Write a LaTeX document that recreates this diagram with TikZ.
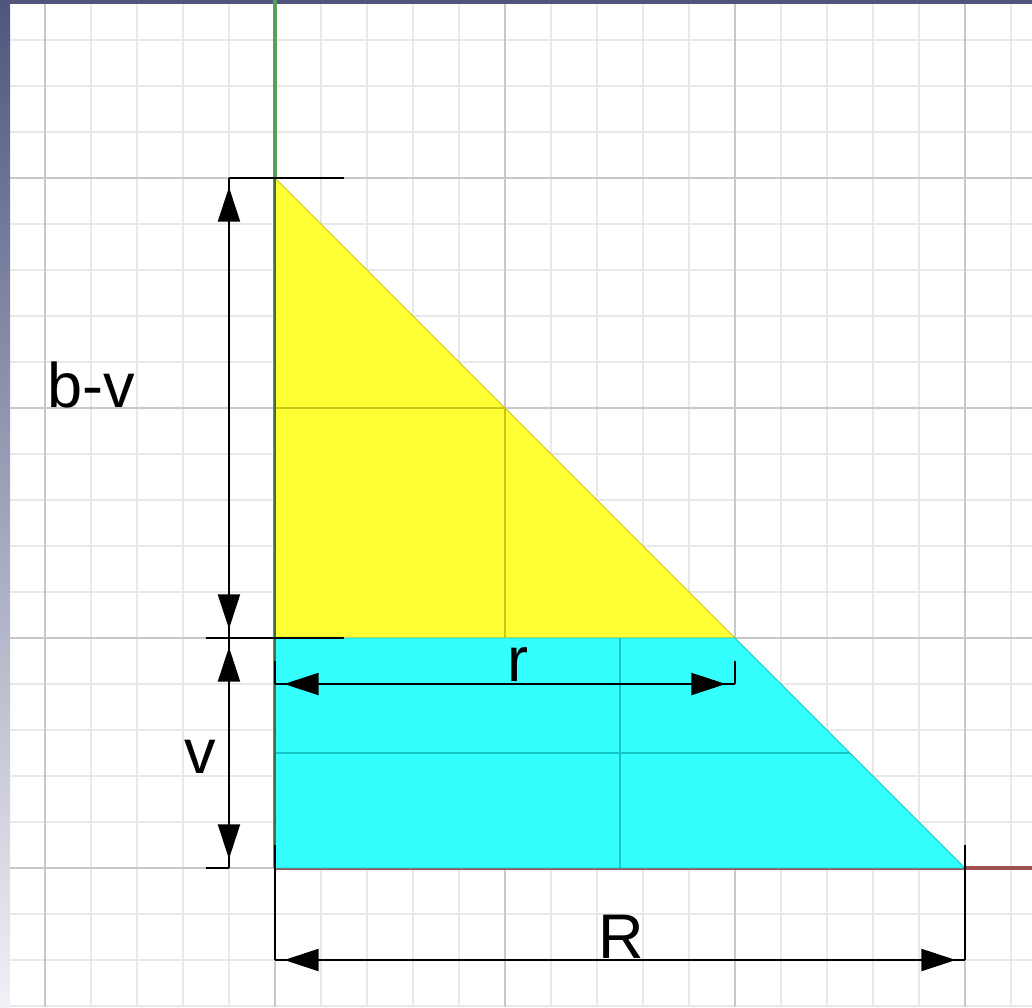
\documentclass[tikz,border=0pt]{standalone}
\usepackage{fontspec}
\setmainfont{Liberation Sans}
\usetikzlibrary{arrows.meta}
\definecolor{minorgray}{RGB}{232,232,232}
\definecolor{majorgray}{RGB}{200,200,200}
\definecolor{frameblue}{RGB}{78,86,126}
\definecolor{framelight}{RGB}{240,240,245}
\definecolor{axisgreen}{RGB}{88,160,88}
\definecolor{axisred}{RGB}{160,80,80}
\definecolor{coneyellow}{RGB}{255,255,51}
\definecolor{coneolive}{RGB}{200,200,20}
\definecolor{frustcyan}{RGB}{51,255,255}
\definecolor{frustteal}{RGB}{20,200,200}

\begin{document}
\begin{tikzpicture}[
    dimline/.style={draw=black, line width=1.2pt},
    dimtips/.style={line width=1.2pt,
        {Triangle[length=0.75cm,width=0.48cm]}-{Triangle[length=0.75cm,width=0.48cm]},
        shorten <=0.2cm, shorten >=0.2cm},
    extline/.style={draw=black, line width=1.2pt},
    dimlabel/.style={inner sep=0pt, font=\fontsize{39}{39}\selectfont}
]
    \useasboundingbox (-5.978,-3.022) rectangle (16.457,18.870);

    % Grid
    \draw[minorgray, line width=1.2pt, step=1] (-5.978,-3.022) grid (16.457,18.870);
    \draw[majorgray, line width=1.4pt, step=5] (-5.978,-3.022) grid (16.457,18.870);

    % Window frame
    \shade[top color=frameblue, bottom color=framelight] (-5.978,-3.022) rectangle (-5.76,18.870);
    \fill[frameblue] (-5.978,18.78) rectangle (16.457,18.870);

    % Key points
    \coordinate (O) at (0,0);
    \coordinate (apex) at (0,15);
    \coordinate (mid) at (0,5);
    \coordinate (rtop) at (10,5);
    \coordinate (Rend) at (15,0);
    \coordinate (ytop) at (0,18.870);
    \coordinate (xend) at (16.457,0);

    % Axes
    \draw[axisgreen, line width=2pt] (O) -- (ytop);
    \draw[axisred, line width=2pt] (O) -- (xend);

    % Cone part and frustum
    \filldraw[fill=coneyellow, draw=coneolive, line width=0.6pt] (apex) -- (mid) -- (rtop) -- cycle;
    \filldraw[fill=frustcyan, draw=frustteal, line width=0.6pt] (mid) -- (rtop) -- (Rend) -- (O) -- cycle;
    \draw[coneolive, line width=1pt] (5,5) -- (5,10) -- (0,10);
    \draw[frustteal, line width=1pt] (7.5,0) -- (7.5,5);
    \draw[frustteal, line width=1pt] (0,2.5) -- (12.5,2.5);
    \draw[axisgreen!70!black, line width=0.8pt] (O) -- (apex);

    % Dimension points
    \coordinate (bvtop) at (-1,15);
    \coordinate (bvbot) at (-1,5);
    \coordinate (vbot) at (-1,0);
    \coordinate (rl) at (0,4);
    \coordinate (rr) at (10,4);
    \coordinate (Rl) at (0,-2);
    \coordinate (Rr) at (15,-2);

    % Extension lines
    \draw[extline] (bvtop) -- (1.5,15);
    \draw[extline] (-1.5,5) -- (1.5,5);
    \draw[extline] (-1.5,0) -- (vbot);
    \draw[extline] (0,4.5) -- (rl);
    \draw[extline] (10,4.5) -- (rr);
    \draw[extline] (0,0.5) -- (Rl);
    \draw[extline] (15,0.5) -- (Rr);

    % Dimension lines
    \draw[dimline] (bvtop) -- (bvbot);
    \draw[dimtips] (bvtop) -- (bvbot);
    \draw[dimline] (bvbot) -- (vbot);
    \draw[dimtips] (bvbot) -- (vbot);
    \draw[dimline] (rl) -- (rr);
    \draw[dimtips] (rl) -- (rr);
    \draw[dimline] (Rl) -- (Rr);
    \draw[dimtips] (Rl) -- (Rr);

    % Labels
    \node[dimlabel, anchor=base west] (lbv) at (-4.95,10.02) {b-v};
    \node[dimlabel, anchor=base] (lv) at (-1.63,2.05) {v};
    \node[dimlabel, anchor=base] (lr) at (5.28,4.05) {r};
    \node[dimlabel, anchor=base] (lR) at (7.52,-1.96) {R};
\end{tikzpicture}
\end{document}
